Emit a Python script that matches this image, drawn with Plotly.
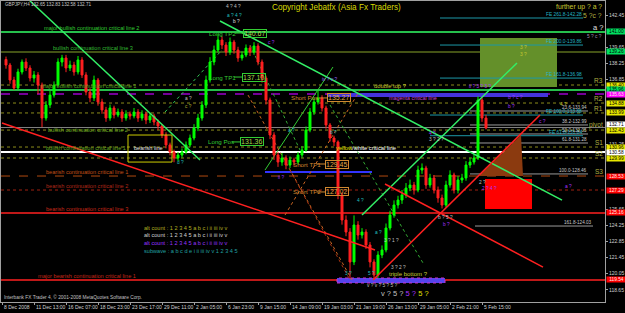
import plotly.graph_objects as go

FONT = "Liberation Sans, Arial, sans-serif"

# ---------------- price data (GBPJPY H4, 1 unit = 2 bars) ----------
closes = [138.12, 136.82, 136.13, 137.52, 138.38, 137.86, 136.99, 137.26, 136.39, 133.53,
          134.66, 135.52, 136.39, 138.38, 138.73, 137.86, 138.12, 137.52, 138.56, 137.26,
          135.78, 135.27, 136.82, 134.92, 134.23, 133.53, 134.40, 133.79, 134.05, 133.53,
          133.88, 133.71, 134.05, 133.53, 133.88, 133.36, 133.71, 133.19, 132.84, 132.06,
          131.20, 130.59, 130.07, 130.33, 130.59, 131.20, 131.80, 132.67, 133.53, 134.66,
          136.82, 138.38, 139.42, 140.29, 139.85, 139.25, 140.11, 139.42, 138.73, 138.99,
          139.59, 139.25, 139.77, 138.38, 136.99, 135.09, 132.06, 130.33, 129.72, 130.07,
          129.46, 129.90, 129.72, 130.33, 130.76, 132.49, 134.05, 134.92, 135.27, 134.40,
          132.93, 131.80, 131.46, 126.87, 124.70, 123.66, 121.07, 124.27, 123.40, 123.66,
          122.54, 121.07, 119.94, 121.67, 122.11, 124.01, 125.13, 126.00, 126.43, 126.87,
          127.47, 127.73, 127.30, 129.03, 129.20, 127.73, 128.34, 127.30, 126.61, 126.00,
          127.73, 128.60, 127.30, 128.17, 128.34, 129.46, 129.72, 130.07, 135.09, 133.53,
          132.67]
highs = [138.85, 138.30, 137.10, 137.80, 138.60, 138.70, 138.10, 137.60, 137.50, 136.60,
         135.00, 135.90, 136.70, 138.70, 139.00, 139.00, 138.50, 138.40, 138.90, 138.80,
         137.50, 136.10, 137.20, 137.00, 135.20, 134.50, 134.70, 134.60, 134.35, 134.30,
         134.20, 134.10, 134.40, 134.30, 134.20, 134.10, 134.00, 133.90, 133.40, 133.00,
         132.30, 131.40, 130.80, 130.60, 130.90, 131.50, 132.10, 133.00, 133.90, 135.00,
         137.20, 138.80, 139.80, 140.80, 140.60, 140.10, 140.50, 140.30, 139.70, 139.30,
         139.90, 139.80, 140.10, 140.00, 138.60, 137.20, 135.30, 132.30, 130.60, 130.50,
         130.30, 130.20, 130.10, 130.60, 131.10, 132.80, 134.40, 135.30, 135.90, 135.50,
         134.60, 133.10, 132.00, 131.60, 127.10, 125.10, 124.00, 125.10, 124.60, 124.00,
         123.90, 122.80, 121.30, 122.00, 122.50, 124.40, 125.50, 126.40, 126.80, 127.30,
         127.90, 128.20, 128.00, 129.40, 129.60, 129.40, 128.70, 128.60, 127.60, 126.90,
         128.10, 129.00, 128.80, 128.50, 128.70, 129.80, 130.10, 130.40, 135.40, 135.30,
         133.80]
lows = [137.80, 136.50, 135.95, 136.00, 137.30, 137.60, 136.70, 136.60, 135.60, 132.75,
        133.30, 134.40, 135.30, 136.20, 138.00, 137.50, 137.60, 137.20, 137.30, 137.00,
        135.50, 134.90, 135.00, 134.60, 133.90, 133.20, 133.30, 133.50, 133.60, 133.20,
        133.30, 133.40, 133.50, 133.20, 133.30, 133.00, 133.10, 132.90, 132.50, 131.80,
        130.90, 130.30, 129.70, 129.80, 130.10, 130.40, 131.00, 131.60, 132.40, 133.30,
        134.40, 136.60, 138.10, 139.20, 139.50, 138.90, 139.00, 139.10, 138.40, 138.50,
        138.80, 138.90, 139.00, 138.10, 136.60, 134.70, 131.70, 129.90, 129.30, 129.40,
        129.10, 129.20, 129.40, 129.50, 130.10, 130.60, 132.30, 133.80, 134.70, 134.10,
        132.60, 131.50, 131.10, 126.50, 124.30, 123.30, 119.60, 120.80, 123.00, 123.10,
        122.20, 120.60, 119.55, 119.70, 121.40, 121.90, 123.80, 124.90, 125.70, 126.10,
        126.60, 127.20, 126.90, 127.10, 128.70, 127.40, 127.50, 127.00, 126.20, 125.70,
        125.80, 127.50, 127.00, 127.00, 127.90, 128.10, 129.20, 129.50, 129.90, 133.20,
        132.55]
opens = [138.60] + closes[:-1]
bar_x = list(range(1, len(closes) + 1))

date_labels = ["8 Dec 2008", "11 Dec 13:00", "16 Dec 07:00", "18 Dec 23:00", "23 Dec 17:00",
               "29 Dec 11:00", "2 Jan 05:00", "6 Jan 23:00", "9 Jan 15:00", "14 Jan 09:00",
               "19 Jan 03:00", "21 Jan 19:00", "26 Jan 13:00", "29 Jan 05:00", "2 Feb 21:00",
               "5 Feb 15:00"]
date_pos = [0, 8, 16, 24, 32, 40, 48, 56, 64, 72, 80, 88, 96, 104, 112, 120]
# price-scale ticks that are not hidden behind the coloured price boxes
price_ticks = [142.45, 139.65, 138.25, 136.85, 131.25, 125.65, 124.25, 122.85, 121.45,
               120.05, 118.65]

# full-width horizontal levels
level_prices = [140.98, 139.25, 135.96, 135.61, 136.39, 134.83, 133.97, 132.49, 131.02,
                130.07, 132.71, 130.59, 128.51, 127.30, 125.31, 119.51]
level_colors = ["#33ff66", "#5b6e1c", "#33ff66", "#9900cc", "#8c8c1a", "#8c8c1a", "#8c8c1a",
                "#8c8c1a", "#8c8c1a", "#8c8c1a", "#808080", "#ffffff", "#b04a10", "#a02010",
                "#ff2020", "#ff2020"]
level_widths = [1.5, 1.5, 1.5, 1.5, 1, 1, 1, 1, 1, 1, 1, 2, 1, 1, 1.5, 1.5]
level_dash = ["solid", "solid", "solid", "dash", "dot", "dot", "dot", "dot", "dot", "dot",
              "solid", "solid", "dash", "dot", "solid", "solid"]

level_texts = ["major bullish continuation critical line 2", "bullish continuation critical line 3",
               "major bullish continuation critical line 1", "bullish continuation critical line 2",
               "bullish continuation critical line 1", "bearish continuation critical line 1",
               "bearish continuation critical line 2", "bearish continuation critical line 3",
               "major bearish continuation critical line 1"]
level_text_price = [140.98, 139.25, 135.96, 132.15, 130.59, 128.51, 127.30, 125.31, 119.51]
level_text_x = [10.25, 12.5, 9.5, 11.25, 10.75, 10.75, 10.75, 10.75, 8.75]
level_text_colors = ["#33cc33", "#33bb33", "#55aa22", "#66aa22", "#66aa22", "#c05018",
                     "#b02818", "#c82818", "#c02818"]

pivot_names = ["R3", "R2", "R1", "pivot", "S1", "S2", "S3"]
pivot_prices = [136.39, 134.83, 133.97, 132.49, 131.02, 130.07, 128.51]

box_prices = [140.98, 139.25, 136.39, 135.96, 135.61, 134.83, 133.97, 132.93, 132.49, 131.02,
              130.59, 130.07, 128.51, 127.30, 125.31, 119.51]
box_texts = ["141.00", "139.26", "136.40", "135.96", "135.63", "134.88", "133.99", "132.71",
             "132.43", "130.96", "130.58", "129.99", "128.53", "127.29", "125.16", "119.54"]
box_bg = ["#00e060", "#00e060", "#e8e800", "#00e060", "#ff00ff", "#e8e800", "#e8e800", "#ffffff",
          "#e8e800", "#e8e800", "#ffffff", "#e8e800", "#ff0000", "#ff0000", "#ff0000", "#ff0000"]

# trend lines: x0, p0, x1, p1
trend_lines = [(6.75, 143.75, 49.5, 129.90), (54.5, 141.93, 140.0, 126.43),
               (90.0, 125.13, 128.75, 138.30), (0.0, 133.10, 93.25, 122.11),
               (92.75, 119.51, 134.5, 133.79), (95.75, 127.82, 135.25, 120.63)]
trend_colors = ["#33ee66", "#33ee66", "#33ee66", "#ff2020", "#ff2020", "#ff2020"]
aux_lines = [(40.75, 134.05, 55.0, 139.42), (65.75, 129.03, 82.75, 137.95),
             (61.5, 135.52, 87.5, 119.51), (70.75, 125.13, 89.5, 135.96),
             (82.0, 134.66, 105.25, 120.98), (72.0, 129.03, 87.0, 119.51),
             (62.0, 139.85, 74.5, 130.76)]
aux_colors = ["#33cc55", "#33cc33", "#cc6622", "#cc6622", "#33aa33", "#aa3311", "#33aa33"]
aux_dash = ["dot", "solid", "dot", "dot", "dot", "dot", "dot"]

fe_prices = [142.19, 139.85, 136.99, 133.79, 132.00]
fe_texts = ["FE 261.8-142.28", "FE 200.0-139.86", "FE 161.8-136.98", "FE 100.0-133.88",
            "FE 61.8-131.84"]
fib_prices = [134.14, 132.93, 132.15, 131.37, 128.69, 124.18]
fib_texts = ["23.6-133.94", "38.2-132.99", "50.0-132.05", "61.8-131.28", "100.0-128.46",
             "161.8-124.03"]

pos_names = ["Long TP2", "Long TP1", "Long Pos", "Short Pos", "Short TP1", "Short TP2"]
pos_values = ["140.67", "137.10", "131.36", "135.27", "129.45", "127.02"]
pos_y = [140.89, 137.08, 131.46, 135.27, 129.55, 127.13]
pos_name_x = [51.5, 51.5, 51.25, 72.0, 72.5, 72.5]
pos_box_x = [60.25, 60.0, 59.5, 81.25, 80.75, 80.75]

wave_texts = ["4 ? 4 ?", "a ? 4 ?", "b ?", "c ?", "iv ? v ?", "3 ?", "3 ?", "b ? c ?", "b ?",
              "4 ?", "c ?", "ii ? 3 ? 3 ?", "4 ?", "3 ? 2 ?", "a ?", "2 ?", "2 ? 4 ?", "3 ?",
              "5 ?", "v ? v ? 5 ? 5 ?", "a ?", "3 ? 1 ?", "3 ? 2 ?", "b ? 5 ?", "b ?", "a ?",
              "b ?", "4 ?", "ii ?", "d ?", "a ?", "c ?"]
wave_x = [55.75, 56, 57.5, 66.25, 79.75, 129.25, 129.25, 126.25, 126.25, 139.25, 134, 116.5,
          106.5, 106.5, 140.5, 119, 119.75, 85.5, 91.25, 91, 93, 95.25, 97, 108.75, 110, 71.25,
          81.75, 88.5, 68.75, 43.5, 45.5, 45.5]
wave_p = [143.23, 142.45, 141.85, 140.11, 136.91, 139.68, 138.99, 135.35, 134.49, 134.66,
          133.19, 136.30, 132.23, 131.63, 127.56, 127.99, 127.47, 120.11, 120.11, 118.99,
          123.58, 122.89, 120.55, 124.88, 124.27, 132.41, 132.32, 126.43, 128.34, 129.64,
          135.18, 134.49]
wave_colors = ["#c0c0c0", "#20c0c0", "#e0e0e0", "#aa33ff", "#9966ff", "#c8c830", "#c8c830",
               "#aa33ff", "#aa33ff", "#c8c830", "#aa33ff", "#aa33ff", "#aa33ff", "#c0c0c0",
               "#aa33ff", "#c0c0c0", "#aa33ff", "#20c0c0", "#20c0c0", "#c0c0c0", "#20c0c0",
               "#c0c0c0", "#c0c0c0", "#c0c0c0", "#aa33ff", "#20c0c0", "#20c0c0", "#20c0c0",
               "#aa33ff", "#20c0c0", "#c0c0c0", "#b0b030"]

legend_lines = ["alt count : 1 2 3 4 5 a b c i ii iii iv v", "alt count : 1 2 3 4 5 a b c i ii iii iv v",
                "alt count : 1 2 3 4 5 a b c i ii iii iv v", "subwave : a b c d e i ii iii iv v 1 2 3 4 5"]
legend_p = [124.01, 123.40, 122.71, 122.02]
legend_colors = ["#b0b020", "#d0d0d0", "#9933ff", "#20a0a0"]

# ---------------------------------------------------------------------------------
fig = go.Figure()
shapes = []
ann = []


def txt(x, y, s, color, size, xa="left", ya="middle", **kw):
    d = dict(x=x, y=y, xref="x", yref="y", text=s, showarrow=False, xanchor=xa, yanchor=ya,
             font=dict(family=FONT, size=size, color=color), borderpad=0)
    d.update(kw)
    ann.append(d)


# background zones (below everything)
shapes.append(dict(type="rect", xref="x", yref="y", x0=119.5, x1=138.75, y0=136.22, y1=140.46,
                   fillcolor="#64902a", line=dict(width=0), layer="below"))

for p, c, w, d in zip(level_prices, level_colors, level_widths, level_dash):
    shapes.append(dict(type="line", xref="paper", yref="y", x0=0, x1=1, y0=p, y1=p,
                       line=dict(color=c, width=w, dash=d), layer="below"))

# blue bars
shapes.append(dict(type="rect", xref="x", yref="y", x0=81.25, x1=136.5, y0=135.35, y1=135.70,
                   fillcolor="#4433dd", line=dict(width=0), layer="below"))
shapes.append(dict(type="line", xref="x", yref="y", x0=65.75, x1=92.5, y0=128.86, y1=128.86,
                   line=dict(color="#3333ff", width=2), layer="below"))
shapes.append(dict(type="rect", xref="x", yref="y", x0=83.75, x1=110.75, y0=119.25, y1=119.68,
                   fillcolor="#5544ee", line=dict(color="#cc33cc", width=1, dash="dot"), layer="below"))

for (x0, p0, x1, p1), c, d in zip(aux_lines, aux_colors, aux_dash):
    shapes.append(dict(type="line", xref="x", yref="y", x0=x0, y0=p0, x1=x1, y1=p1,
                       line=dict(color=c, width=1, dash=d), layer="below"))

for p, s in zip(fe_prices, fe_texts):
    x0 = 109.5 if p > 135 else 107.0
    shapes.append(dict(type="line", xref="x", yref="y", x0=x0, x1=145.25, y0=p, y1=p,
                       line=dict(color="#1c98a8", width=1), layer="below"))
    txt(145.25, p, s, "#22b4c4", 4.8, xa="right", ya="bottom")

for p, s in zip(fib_prices, fib_texts):
    x1 = 147.75 if p < 125 else 146.5
    x0 = 118.25 if p < 125 else 117.0
    shapes.append(dict(type="line", xref="x", yref="y", x0=x0, x1=x1, y0=p, y1=p,
                       line=dict(color="#9a9a9a", width=1), layer="below"))
    txt(x1, p, s, "#c8c8c8", 4.6, xa="right", ya="bottom")

# candles
fig.add_trace(go.Candlestick(
    x=bar_x, open=opens, high=highs, low=lows, close=closes,
    increasing=dict(line=dict(color="#00ff00", width=1), fillcolor="#00ff00"),
    decreasing=dict(line=dict(color="#ff2020", width=1), fillcolor="#ff2020"),
    whiskerwidth=0, hoverinfo="skip"))

# brown triangle
fig.add_trace(go.Scatter(x=[119.25, 129.75, 130.25, 119.25], y=[128.51, 132.06, 128.51, 128.51],
                         fill="toself", fillcolor="#8b3a0f", line=dict(width=0), mode="lines",
                         hoverinfo="skip"))

shapes.append(dict(type="rect", xref="x", yref="y", x0=120.75, x1=132.5, y0=125.65, y1=128.25,
                   fillcolor="#ff0000", line=dict(width=0)))
shapes.append(dict(type="rect", xref="x", yref="y", x0=31.5, x1=42.5, y0=129.72, y1=132.06,
                   fillcolor="rgba(0,0,0,0)", line=dict(color="#cccc00", width=1)))

for (x0, p0, x1, p1), c in zip(trend_lines, trend_colors):
    shapes.append(dict(type="line", xref="x", yref="y", x0=x0, y0=p0, x1=x1, y1=p1,
                       line=dict(color=c, width=1.5)))

# level labels
for s, p, x, c in zip(level_texts, level_text_price, level_text_x, level_text_colors):
    txt(x, p, s, c, 5.6, ya="bottom")
txt(32.75, 130.59, "bearish line", "#e0e0e0", 5.6, ya="bottom")

for s, p in zip(pivot_names, pivot_prices):
    txt(150.5, p, s, "#b0b040", 6.5, xa="right", ya="bottom")

# position markers
for i, (n, v, y, nx, bx) in enumerate(zip(pos_names, pos_values, pos_y, pos_name_x, pos_box_x)):
    col = "#33cc33" if i < 3 else "#d08830"
    vcol = "#a8d848" if i < 3 else "#e0a848"
    shapes.append(dict(type="line", xref="x", yref="y", x0=bx - 2.0, x1=bx, y0=y, y1=y,
                       line=dict(color=col, width=1)))
    txt(nx, y, n, col, 6.2)
    txt(bx, y, v, vcol, 7, bordercolor=col, borderwidth=1)

# misc labels
txt(92.75, 135.96, "double top ?", "#c8c830", 5.8, ya="bottom")
txt(96.5, 135.27, "magenta critical line", "#cc44cc", 5.4)
txt(83.25, 130.94, '<span style="color:#e0e000">yellow</span>/white critical line', "#ffffff", 5.8)
txt(96.5, 120.03, "triple bottom ?", "#c8c830", 6)
txt(150.25, 143.14, "further up ? a ?", "#c8c830", 6.8, xa="right")
txt(150.25, 142.45, "5 ?c ?", "#b0b040", 6.8, xa="right")
txt(150.5, 141.40, "a ?", "#e0e0e0", 7.5, xa="right")
txt(150.25, 140.62, "5 ? c ?", "#a090b0", 4.8, xa="right")
txt(94.5, 118.30, 'v ? 5 ? <span style="color:#aa33ff">5 ?</span><span style="color:#e0e000"> 5 ?</span>',
    "#c0c0c0", 7.5)

for s, x, p, c in zip(wave_texts, wave_x, wave_p, wave_colors):
    txt(x, p, s, c, 4.8)

for s, p, c in zip(legend_lines, legend_p, legend_colors):
    txt(35.25, p, s, c, 5.6)

txt(0.5, 143.32, "GBPJPY,H4 132.65 132.83 132.58 132.71", "#c8c8c8", 4.6)
txt(83.5, 143.14, "Copyright Jebatfx (Asia Fx Traders)", "#d8d800", 8.2, xa="center")
txt(0.25, 118.05, "Interbank FX Trader 4, \u00a9 2001-2008 MetaQuotes Software Corp.", "#c0c0c0", 4.8)

# date labels below the frame (MT4 style: text starts at the tick)
for s, x in zip(date_labels, date_pos):
    ann.append(dict(x=x, y=0, xref="x", yref="paper", text=s, showarrow=False, xanchor="left",
                    yanchor="top", xshift=1, yshift=-1, borderpad=0,
                    font=dict(family=FONT, size=5, color="#d0d0d0")))

# right-axis price boxes
for p, s, bg in zip(box_prices, box_texts, box_bg):
    fc = "#ffe8e8" if bg == "#ff0000" or bg == "#ff00ff" else "#000000"
    ann.append(dict(x=1, y=p, xref="paper", yref="y", text=s, showarrow=False, xanchor="left",
                    yanchor="middle", xshift=1, width=19, height=5, align="center",
                    bgcolor=bg, borderpad=0,
                    font=dict(family=FONT, size=4.8, color=fc)))

fig.update_layout(
    width=625, height=313, margin=dict(l=1, r=20, t=1, b=11),
    paper_bgcolor="#000000", plot_bgcolor="#000000", showlegend=False,
    shapes=shapes, annotations=ann,
    xaxis=dict(range=[-0.25, 150.75], showgrid=False, zeroline=False, showline=True,
               linecolor="#a0a0a0", linewidth=1, mirror=True, tickvals=date_pos,
               showticklabels=False, ticks="outside", ticklen=2, tickcolor="#a0a0a0",
               rangeslider=dict(visible=False), automargin=False, fixedrange=True),
    yaxis=dict(range=[117.603, 143.663], side="right", showgrid=False, zeroline=False,
               showline=True, linecolor="#a0a0a0", linewidth=1, mirror=True,
               tickvals=price_ticks, ticktext=[f"{v:.2f}" for v in price_ticks],
               ticks="outside", ticklen=2, tickcolor="#a0a0a0",
               tickfont=dict(family=FONT, size=5, color="#d0d0d0"),
               automargin=False, fixedrange=True),
)

fig.write_html("out.html")
